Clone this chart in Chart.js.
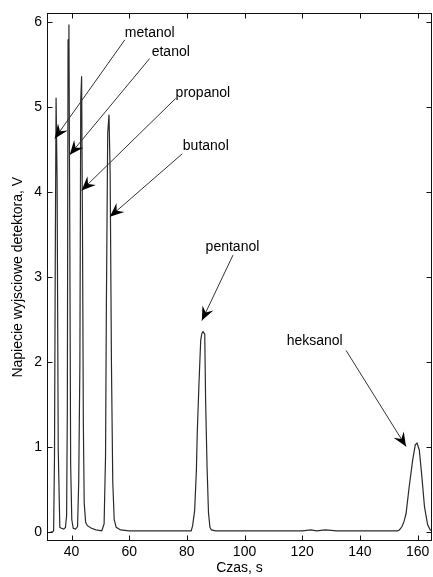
<!DOCTYPE html>
<html>
<head>
<meta charset="utf-8">
<script src="https://cdn.jsdelivr.net/npm/chart.js@4/dist/chart.umd.min.js"></script>
<style>
  html, body { margin: 0; padding: 0; background: #fff; }
  canvas { display: block; }
</style>
</head>
<body>
<canvas id="chrom" width="433" height="577"></canvas>
<script>
// Detector output voltage (V) sampled over elution time (s)
const timeS = [
  31.5, 32.5, 33.5, 33.8, 34.1, 34.35, 34.65, 35.0, 35.4, 35.95,
  36.5, 37.3, 37.9, 38.3, 38.55, 38.8, 39.1, 39.4, 39.7, 40.1,
  40.6, 41.4, 42.1, 42.5, 42.9, 43.2, 43.5, 43.8, 44.1, 44.4,
  44.9, 45.5, 46.9, 48.5, 50.5, 51.3, 51.8, 52.1, 52.55, 53.0,
  53.4, 53.85, 54.3, 54.8, 55.5, 57.0, 60.0, 70.0, 80.0, 81.5,
  82.0, 82.7, 83.3, 83.6, 84.2, 84.8, 85.2, 85.6, 86.2, 86.5,
  87.0, 87.5, 88.0, 88.5, 90.0, 100.0, 110.0, 120.0, 123.0, 125.0,
  128.0, 132.0, 140.0, 150.0, 153.0, 153.7, 154.6, 155.3, 156.0, 157.1,
  158.3, 159.2, 159.8, 160.6, 161.5, 162.4, 163.5, 164.4, 165.0
];
const voltageV = [
  0.00, 0.00, 0.01, 0.02, 0.90, 3.08, 5.11, 4.14, 0.97, 0.06,
  0.05, 0.04, 0.06, 0.20, 1.44, 5.79, 5.97, 3.55, 0.80, 0.15,
  0.05, 0.04, 0.07, 0.60, 1.97, 5.08, 5.36, 3.60, 1.30, 0.35,
  0.12, 0.08, 0.05, 0.03, 0.02, 0.10, 0.90, 2.71, 4.69, 4.91,
  4.22, 1.97, 0.60, 0.15, 0.06, 0.03, 0.02, 0.02, 0.02, 0.02,
  0.08, 0.26, 0.73, 1.17, 1.75, 2.26, 2.34, 2.36, 2.33, 1.55,
  0.77, 0.23, 0.06, 0.03, 0.02, 0.02, 0.02, 0.02, 0.03, 0.02,
  0.03, 0.02, 0.02, 0.02, 0.02, 0.03, 0.07, 0.13, 0.22, 0.54,
  0.85, 1.03, 1.05, 0.97, 0.65, 0.30, 0.09, 0.03, 0.02
];
const xTicks = [40, 60, 80, 100, 120, 140, 160];
const yTicks = [0, 1, 2, 3, 4, 5, 6];
const peakNames = ['metanol', 'etanol', 'propanol', 'butanol', 'pentanol', 'heksanol'];

// Callout geometry in axis units [time, voltage]: text anchor, arrow tail, arrow tip
const calloutLayout = [
  { text: [58.5, 5.87], from: [58.5, 5.79], to: [34.2, 4.63] },
  { text: [67.8, 5.65], from: [67.1, 5.57], to: [39.4, 4.44] },
  { text: [76.1, 5.16], from: [76.1, 5.10], to: [43.5, 4.02] },
  { text: [78.6, 4.54], from: [78.4, 4.45], to: [53.3, 3.71] },
  { text: [86.5, 3.35], from: [96.0, 3.26], to: [85.2, 2.49] },
  { text: [114.6, 2.25], from: [135.2, 2.14], to: [156.0, 1.01] }
];

const FONT = "'Liberation Sans', Arial, sans-serif";
const INK = '#000';

function drawArrow(ctx, x0, y0, x1, y1) {
  ctx.beginPath();
  ctx.moveTo(x0, y0);
  ctx.lineTo(x1, y1);
  ctx.stroke();
  const ang = Math.atan2(y1 - y0, x1 - x0);
  const ux = Math.cos(ang), uy = Math.sin(ang);
  const L = 14, W = 6, N = 9;
  const bx = x1 - ux * L, by = y1 - uy * L;
  ctx.beginPath();
  ctx.moveTo(x1, y1);
  ctx.lineTo(bx - uy * W, by + ux * W);
  ctx.lineTo(x1 - ux * N, y1 - uy * N);
  ctx.lineTo(bx + uy * W, by - ux * W);
  ctx.closePath();
  ctx.fill();
}

// Box frame, inward tick marks and peak callouts
const framePlugin = {
  id: 'frame',
  afterDraw(chart) {
    const { ctx, chartArea: a, scales: { x, y } } = chart;
    ctx.save();
    ctx.strokeStyle = '#111';
    ctx.lineWidth = 1;
    const L = Math.round(a.left) + 0.5, R = Math.round(a.right) - 0.5;
    const T = Math.round(a.top) + 0.5, B = Math.round(a.bottom) - 0.5;
    ctx.strokeRect(L, T, R - L, B - T);
    ctx.beginPath();
    xTicks.forEach(v => {
      const px = Math.round(x.getPixelForValue(v)) + 0.5;
      ctx.moveTo(px, B); ctx.lineTo(px, B - 5);
      ctx.moveTo(px, T); ctx.lineTo(px, T + 5);
    });
    yTicks.forEach(v => {
      const py = Math.round(y.getPixelForValue(v)) + 0.5;
      ctx.moveTo(L, py); ctx.lineTo(L + 5, py);
      ctx.moveTo(R, py); ctx.lineTo(R - 5, py);
    });
    ctx.stroke();

    ctx.strokeStyle = '#333';
    ctx.fillStyle = '#000';
    ctx.font = '14px ' + FONT;
    ctx.textAlign = 'left';
    ctx.textBaseline = 'middle';
    calloutLayout.forEach((c, i) => {
      ctx.fillText(peakNames[i], x.getPixelForValue(c.text[0]), y.getPixelForValue(c.text[1]));
      drawArrow(ctx,
        x.getPixelForValue(c.from[0]), y.getPixelForValue(c.from[1]),
        x.getPixelForValue(c.to[0]), y.getPixelForValue(c.to[1]));
    });
    ctx.restore();
  }
};

const tickFont = { family: FONT, size: 14 };

new Chart(document.getElementById('chrom'), {
  type: 'scatter',
  data: {
    datasets: [{
      data: timeS.map((t, i) => ({ x: t, y: voltageV[i] })),
      showLine: true,
      borderColor: '#2a2a2a',
      borderWidth: 1.2,
      pointRadius: 0,
      fill: false,
      tension: 0
    }]
  },
  options: {
    responsive: false,
    animation: false,
    devicePixelRatio: 1,
    layout: { padding: { top: 13, right: 1, left: 0, bottom: 0 } },
    plugins: { legend: { display: false }, tooltip: { enabled: false } },
    scales: {
      x: {
        type: 'linear',
        min: 31.5,
        max: 165,
        afterBuildTicks: s => { s.ticks = xTicks.map(v => ({ value: v })); },
        afterFit: s => { s.height = 36; },
        grid: { display: false, drawTicks: false },
        border: { display: false },
        ticks: { padding: 3, color: INK, font: tickFont, autoSkip: false, maxRotation: 0 },
        title: { display: true, text: 'Czas, s', color: INK, font: tickFont, padding: 0 }
      },
      y: {
        type: 'linear',
        min: -0.1,
        max: 6.1,
        afterBuildTicks: s => { s.ticks = yTicks.map(v => ({ value: v })); },
        afterFit: s => { s.width = 47; },
        grid: { display: false, drawTicks: false },
        border: { display: false },
        ticks: { padding: 5, color: INK, font: tickFont, autoSkip: false },
        title: { display: true, text: 'Napiecie wyjsciowe detektora, V', color: INK, font: tickFont, padding: { top: 10, bottom: 0 } }
      }
    }
  },
  plugins: [framePlugin]
});
</script>
</body>
</html>
